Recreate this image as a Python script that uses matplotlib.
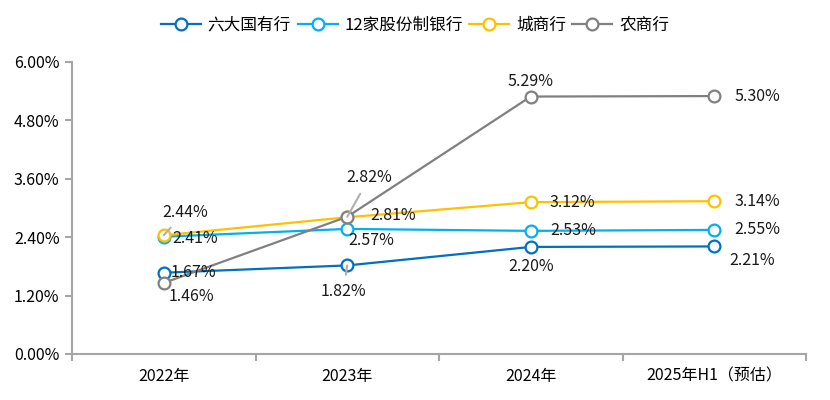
import matplotlib
matplotlib.use("Agg")
import matplotlib.pyplot as plt
from matplotlib.ticker import FuncFormatter

plt.rcParams['font.family'] = ['Noto Sans CJK SC', 'DejaVu Sans']

# ── data ──────────────────────────────────────
categories = ["2022年", "2023年", "2024年", "2025年H1（预估）"]
series_names = ["六大国有行", "12家股份制银行", "城商行", "农商行"]
big_six = [1.67, 1.82, 2.20, 2.21]
joint_stock = [2.41, 2.57, 2.53, 2.55]
city_banks = [2.44, 2.81, 3.12, 3.14]
rural_banks = [1.46, 2.82, 5.29, 5.30]
y_ticks = [0.0, 1.2, 2.4, 3.6, 4.8, 6.0]

colors = ["#0070C0", "#00B0F0", "#FFC000", "#808080"]
all_series = [big_six, joint_stock, city_banks, rural_banks]

# label offsets (pixels) and whether a leader line is drawn
label_offsets = [
    [(30, 0, False), (-4, -26, True), (0, -20, False), (38, -14, False)],
    [(31, -2, False), (24, -12, False), (42, 0, False), (43, 0, False)],
    [(21, 23, True), (46, 2, False), (42, 0, False), (43, 0, False)],
    [(28, -14, False), (22, 39, True), (0, 15, False), (43, 0, False)],
]

fig = plt.figure(figsize=(8.3, 4.0), dpi=100)
ax = fig.add_axes([72 / 830, 46 / 400, 734 / 830, 292 / 400])

x = list(range(len(categories)))
for name, vals, c, offs in zip(series_names, all_series, colors, label_offsets):
    ax.plot(x, vals, color=c, linewidth=1.6, marker="o", markersize=8.5,
            markerfacecolor="white", markeredgecolor=c, markeredgewidth=1.6,
            label=name, zorder=3)
    for xi, v, (dx, dy, lead) in zip(x, vals, offs):
        arrow = None
        if lead:
            arrow = dict(arrowstyle="-", color="#b0b0b0", lw=1.5,
                         shrinkA=4, shrinkB=0)
        ax.annotate(f"{v:.2f}%", (xi, v), xytext=(dx, dy),
                    textcoords="offset pixels", ha="center", va="center",
                    fontsize=11.5, color="#1a1a1a", arrowprops=arrow, zorder=4)

ax.set_xlim(-0.5, 3.5)
ax.set_ylim(0, 6.0)
ax.set_yticks(y_ticks)
ax.yaxis.set_major_formatter(FuncFormatter(lambda v, p: f"{v:.2f}%"))
ax.set_xticks(x)
ax.set_xticklabels(categories)
ax.set_xticks([-0.5, 0.5, 1.5, 2.5, 3.5], minor=True)
ax.tick_params(axis="x", which="major", length=0, pad=10, labelsize=11.5)
ax.tick_params(axis="x", which="minor", length=5, color="#a6a6a6", width=1.5)
ax.tick_params(axis="y", length=5, color="#a6a6a6", width=1.5, labelsize=11.5, pad=4)

for s in ["top", "right"]:
    ax.spines[s].set_visible(False)
for s in ["left", "bottom"]:
    ax.spines[s].set_color("#a6a6a6")
    ax.spines[s].set_linewidth(1.5)

fig.legend(loc="center", bbox_to_anchor=(415 / 830, 1 - 25 / 400), ncol=4,
           frameon=False, fontsize=12, handlelength=2.4, handletextpad=0.4,
           columnspacing=0.4)

fig.savefig("out.png", dpi=100)
